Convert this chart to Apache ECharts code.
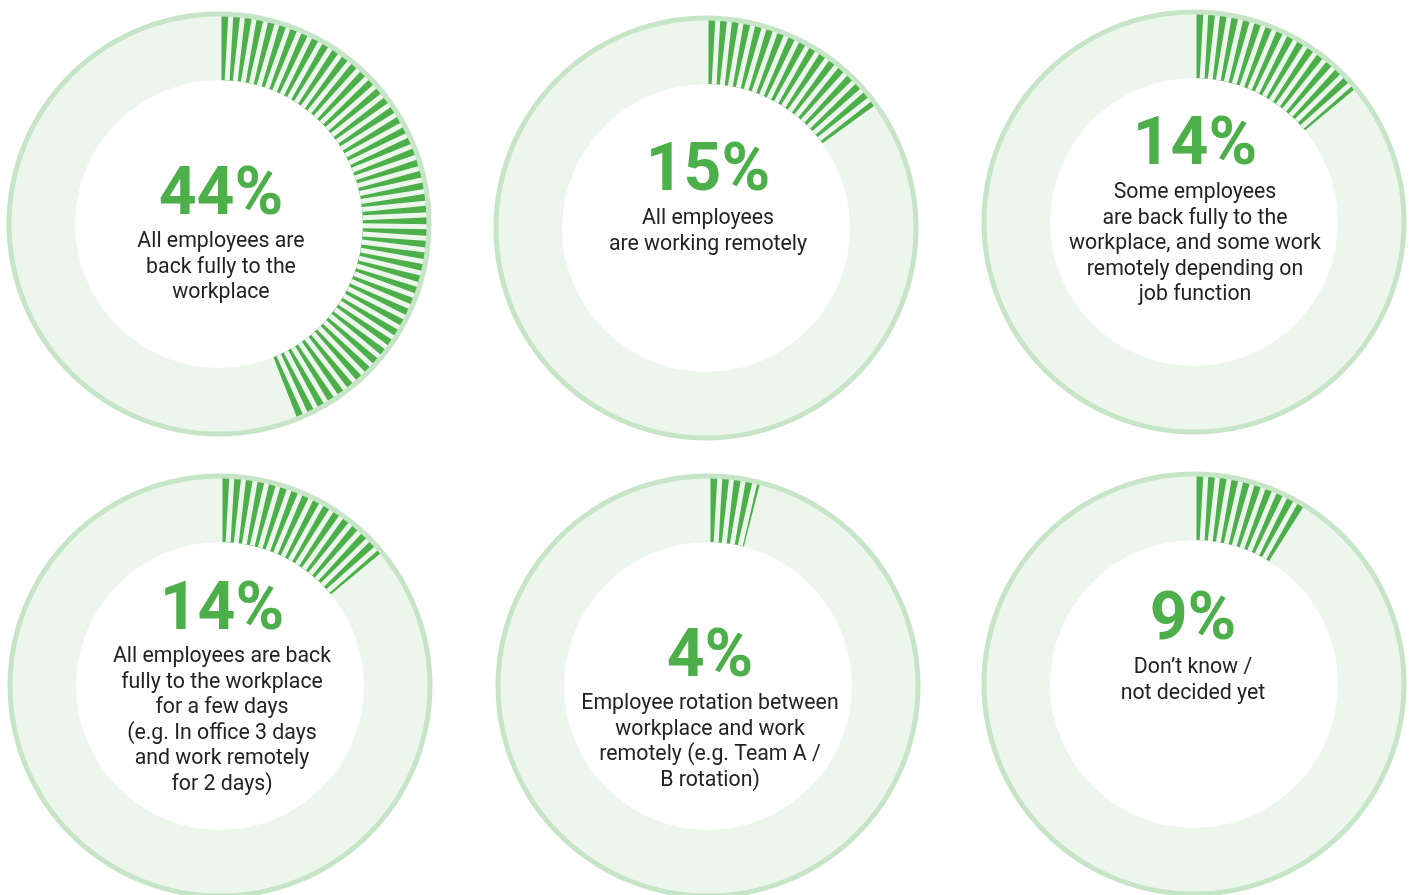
<!DOCTYPE html>
<html>
<head>
<meta charset="utf-8">
<title>Return to workplace</title>
<script src="https://cdn.jsdelivr.net/npm/echarts@6/dist/echarts.min.js"></script>
<style>
  html, body { margin: 0; padding: 0; background: #ffffff; }
  #chart { width: 1412px; height: 895px; }
</style>
</head>
<body>
<div id="chart"></div>
<script>
// Share of respondents per return-to-workplace approach (%)
const values = [44, 15, 14, 14, 4, 9];

// Description shown under each percentage
const categories = [
  'All employees are\nback fully to the\nworkplace',
  'All employees\nare working remotely',
  'Some employees\nare back fully to the\nworkplace, and some work\nremotely depending on\njob function',
  'All employees are back\nfully to the workplace\nfor a few days\n(e.g. In office 3 days\nand work remotely\nfor 2 days)',
  'Employee rotation between\nworkplace and work\nremotely (e.g. Team A /\nB rotation)',
  'Don\u2019t know /\nnot decided yet'
];

// Ring centres and text anchors (pixels)
const layout = [
  { cx: 219, cy: 224, tx: 221, pctY: 189, textY: 240 },
  { cx: 706, cy: 228, tx: 708, pctY: 165, textY: 217 },
  { cx: 1194, cy: 222, tx: 1195, pctY: 139, textY: 191 },
  { cx: 220, cy: 686, tx: 222, pctY: 604, textY: 655 },
  { cx: 708, cy: 686, tx: 710, pctY: 651, textY: 702 },
  { cx: 1194, cy: 684, tx: 1193, pctY: 614, textY: 666 }
];

const GREEN = '#4caf4a';
const TRACK = '#ecf6ec';
const RIM = '#c6e5c6';
const INNER_R = 144;
const OUTER_R = 210;
const PCT_SIZE = 66;
const LABEL_SIZE = 21.3;
const LINE_H = 25.5;

const chart = echarts.init(document.getElementById('chart'), null, { renderer: 'canvas' });

const polar = [], angleAxis = [], radiusAxis = [], series = [], graphic = [];

const hiddenRadius = (idx) => ({
  polarIndex: idx,
  type: 'category',
  data: ['share'],
  axisLine: { show: false },
  axisTick: { show: false },
  axisLabel: { show: false },
  splitLine: { show: false }
});

values.forEach((v, i) => {
  const L = layout[i];
  const ringIdx = polar.length;
  // ring with the striped share arc
  polar.push({ center: [L.cx, L.cy], radius: [INNER_R, OUTER_R] });
  angleAxis.push({
    polarIndex: ringIdx,
    type: 'value',
    min: 0,
    max: 100,
    interval: 0.9,
    startAngle: 90,
    clockwise: true,
    z: 10,
    axisLine: { show: false },
    axisTick: { show: false },
    axisLabel: { show: false },
    splitLine: { show: true, lineStyle: { color: TRACK, width: 5 } },
    splitArea: { show: false }
  });
  radiusAxis.push(hiddenRadius(ringIdx));
  series.push({
    type: 'bar',
    coordinateSystem: 'polar',
    polarIndex: ringIdx,
    data: [v],
    barWidth: '100%',
    barCategoryGap: '0%',
    showBackground: true,
    backgroundStyle: { color: TRACK },
    itemStyle: { color: GREEN },
    silent: true,
    animation: false
  });

  // outer rim circle
  const rimIdx = polar.length;
  polar.push({ center: [L.cx, L.cy], radius: [0, OUTER_R] });
  angleAxis.push({
    polarIndex: rimIdx,
    type: 'value',
    min: 0,
    max: 100,
    startAngle: 90,
    z: 12,
    axisLine: { show: true, lineStyle: { color: RIM, width: 5 } },
    axisTick: { show: false },
    axisLabel: { show: false },
    splitLine: { show: false },
    splitArea: { show: false }
  });
  radiusAxis.push(hiddenRadius(rimIdx));

  graphic.push({
    type: 'text',
    x: L.tx,
    y: L.pctY + 8,
    z: 20,
    style: {
      text: v + '%',
      fontFamily: 'Roboto',
      fontWeight: 'bold',
      fontSize: PCT_SIZE,
      fill: GREEN,
      align: 'center',
      verticalAlign: 'middle'
    }
  });
  graphic.push({
    type: 'text',
    x: L.tx,
    y: L.textY + 2 - LINE_H / 2,
    z: 20,
    style: {
      text: categories[i],
      fontFamily: 'Roboto',
      fontSize: LABEL_SIZE,
      lineHeight: LINE_H,
      fill: '#222222',
      align: 'center',
      verticalAlign: 'top'
    }
  });
});

chart.setOption({
  backgroundColor: '#ffffff',
  animation: false,
  polar,
  angleAxis,
  radiusAxis,
  series,
  graphic
});
</script>
</body>
</html>
